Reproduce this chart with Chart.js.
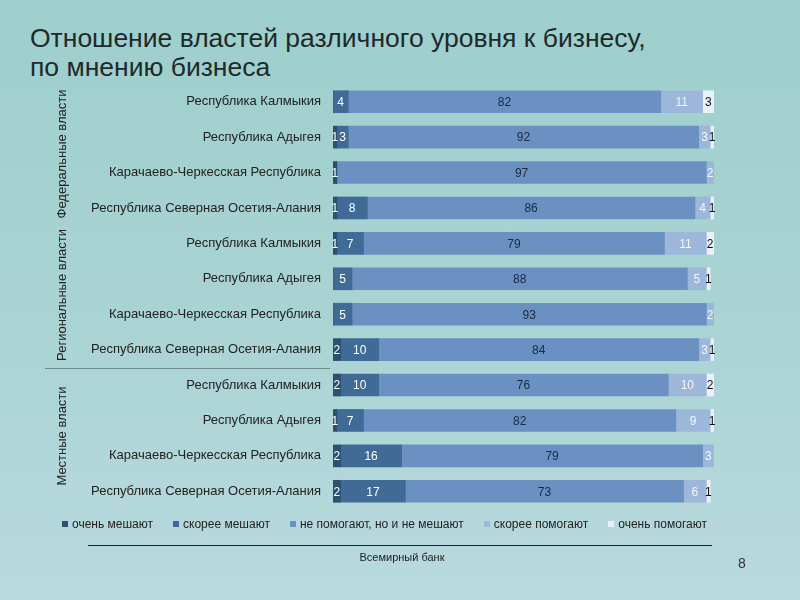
<!DOCTYPE html>
<html>
<head>
<meta charset="utf-8">
<script src="https://cdn.jsdelivr.net/npm/chart.js@4.4.1/dist/chart.umd.min.js"></script>
<style>
  html, body { margin: 0; padding: 0; }
  body {
    width: 800px; height: 600px; position: relative; overflow: hidden;
    background: linear-gradient(180deg, #9dcfcc 0%, #a9d3d3 50%, #b9d9de 100%);
    font-family: "Liberation Sans", Arial, sans-serif;
  }
  #title { position: absolute; left: 30px; top: 24px; font-size: 26.5px; line-height: 29px; color: #1e2a2a; }
  #wrap { position: absolute; left: 0; top: 0; width: 800px; height: 600px; }
  .grp { position: absolute; font-size: 13px; color: #222; white-space: nowrap;
         transform: translate(-50%, -50%) rotate(-90deg); }
  #sep { position: absolute; left: 45px; top: 368px; width: 285px; height: 1px; background: #6f8c8e; }
  #legend { position: absolute; left: 62px; top: 517px; display: flex; gap: 20px;
            font-size: 12px; color: #222; white-space: nowrap; }
  #legend span.box { display: inline-block; width: 6px; height: 6px; margin-right: 4px; vertical-align: 1px; }
  #srcline { position: absolute; left: 88px; top: 545px; width: 624px; height: 1px; background: #222; }
  #src { position: absolute; left: 402px; top: 551px; transform: translateX(-50%); font-size: 11px; color: #222; }
  #page { position: absolute; left: 738px; top: 555px; font-size: 14px; color: #333; }
</style>
</head>
<body>
<div id="title">Отношение властей различного уровня к бизнесу,<br>по мнению бизнеса</div>
<div id="wrap"><canvas id="chart" width="800" height="600"></canvas></div>
<div class="grp" style="left:61px; top:154px;">Федеральные власти</div>
<div class="grp" style="left:61px; top:295px;">Региональные власти</div>
<div class="grp" style="left:61px; top:436px;">Местные власти</div>
<div id="sep"></div>
<div id="legend"></div>
<div id="srcline"></div>
<div id="src">Всемирный банк</div>
<div id="page">8</div>
<script>
const regions = [
  'Республика Калмыкия', 'Республика Адыгея', 'Карачаево-Черкесская Республика', 'Республика Северная Осетия-Алания',
  'Республика Калмыкия', 'Республика Адыгея', 'Карачаево-Черкесская Республика', 'Республика Северная Осетия-Алания',
  'Республика Калмыкия', 'Республика Адыгея', 'Карачаево-Черкесская Республика', 'Республика Северная Осетия-Алания'
];
const seriesNames = ['очень мешают', 'скорее мешают', 'не помогают, но и не мешают', 'скорее помогают', 'очень помогают'];

const veryHinder   = [0, 1, 1, 1, 1, 0, 0, 2, 2, 1, 2, 2];
const ratherHinder = [4, 3, 0, 8, 7, 5, 5, 10, 10, 7, 16, 17];
const neutral      = [82, 92, 97, 86, 79, 88, 93, 84, 76, 82, 79, 73];
const ratherHelp   = [11, 3, 2, 4, 11, 5, 2, 3, 10, 9, 3, 6];
const veryHelp     = [3, 1, 0, 1, 2, 1, 0, 1, 2, 1, 0, 1];

const colors = ['#2c5070', '#3f6b96', '#6a91c1', '#9db7da', '#eaf0f7'];
const labelColors = ['#ffffff', '#ffffff', '#1b2a40', '#f2f6fb', '#111111'];
const allSeries = [veryHinder, ratherHinder, neutral, ratherHelp, veryHelp];

// legend as html, the chart.js one wraps at this width
const legendEl = document.getElementById('legend');
seriesNames.forEach((name, i) => {
  const item = document.createElement('div');
  item.innerHTML = '<span class="box" style="background:' + colors[i] + '"></span>' + name;
  legendEl.appendChild(item);
});

// draws the numbers in the middle of each segment
const valueLabels = {
  id: 'valueLabels',
  afterDatasetsDraw(chart) {
    const ctx = chart.ctx;
    ctx.save();
    ctx.font = '12px "Liberation Sans", Arial, sans-serif';
    ctx.textAlign = 'center';
    ctx.textBaseline = 'middle';
    chart.data.datasets.forEach((ds, i) => {
      const meta = chart.getDatasetMeta(i);
      meta.data.forEach((bar, j) => {
        const v = ds.data[j];
        if (!v) return;
        ctx.fillStyle = labelColors[i];
        ctx.fillText(v, (bar.x + bar.base) / 2, bar.y + 1);
      });
    });
    ctx.restore();
  }
};

const ctx = document.getElementById('chart').getContext('2d');
const chart = new Chart(ctx, {
  type: 'bar',
  data: {
    labels: regions,
    datasets: allSeries.map((d, i) => ({
      label: seriesNames[i],
      data: d,
      backgroundColor: colors[i],
      barThickness: 22,
      borderWidth: 0
    }))
  },
  options: {
    indexAxis: 'y',
    responsive: false,
    animation: false,
    layout: { padding: { left: 80, right: 86, top: 84, bottom: 91 } },
    plugins: {
      legend: { display: false },
      tooltip: { enabled: false },
      title: { display: false }
    },
    scales: {
      x: { stacked: true, min: 0, max: 100, display: false },
      y: {
        stacked: true,
        afterFit: function(scale) { scale.width = 253; },
        grid: { display: false },
        border: { display: false },
        ticks: {
          color: '#222', padding: 4,
          font: { size: 13, family: '"Liberation Sans", Arial, sans-serif' }
        }
      }
    }
  },
  plugins: [valueLabels]
});
</script>
</body>
</html>
